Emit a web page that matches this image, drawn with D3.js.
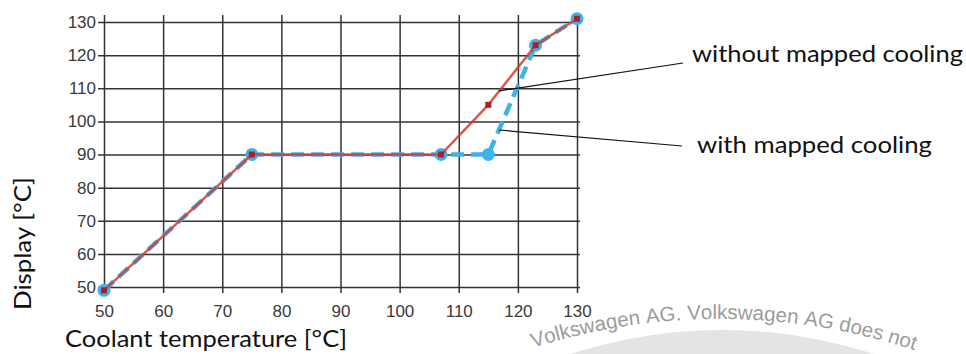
<!DOCTYPE html>
<html>
<head>
<meta charset="utf-8">
<script src="https://cdn.jsdelivr.net/npm/d3@7"></script>
<style>
	body { margin: 0; background: #fff; }
	.grid line { stroke: #333; stroke-width: 1.5px; }
	.grid text { fill: #3a3a3a; font-family: "Liberation Sans", Arial, sans-serif; font-size: 17px; }
	.title { fill: #111; font-family: Lato, "Open Sans", sans-serif; }
	.wm { fill: #9c9c9c; font-family: "Liberation Sans", Arial, sans-serif; font-size: 20.5px; }
</style>
</head>
<body>
<div id="content"></div>
<script>

	// coolant temperature (x) and display reading (y)
	var tempWithout = [50, 75, 107, 115, 123, 130];
	var displayWithout = [49, 90, 90, 105, 123, 131];
	var tempWith = [50, 75, 107, 115, 123, 130];
	var displayWith = [49, 90, 90, 90, 123, 131];

	var xTicks = [50, 60, 70, 80, 90, 100, 110, 120, 130];
	var yTicks = [50, 60, 70, 80, 90, 100, 110, 120, 130];

	var labelNames = ["without mapped cooling", "with mapped cooling"];
	// where the leader lines touch the curves, in data units
	var anchorTemp = [116.8, 116.8];
	var anchorDisplay = [109.2, 97.4];

	var width = 966,
	    height = 354;

	var svg = d3.select("#content").append("svg")
	    .attr("width", width)
	    .attr("height", height);

	var x = d3.scaleLinear().domain([50, 130]).range([104, 577]);
	var y = d3.scaleLinear().domain([50, 130]).range([287, 22]);

	// watermark in the corner
	var wm = svg.append("g");
	wm.append("circle")
	    .attr("cx", 722).attr("cy", 820).attr("r", 490)
	    .attr("fill", "#e4e4e4");

	// letters set one by one round an arc
	var cx = 720, cy = 939, r = 620;
	var wmText = "Volkswagen AG. Volkswagen AG does not";
	var probe = wm.append("text").attr("class", "wm");
	var widths = wmText.split("").map(function(c) {
	  probe.text(c === " " ? "\u00a0" : c);
	  return probe.node().getComputedTextLength();
	});
	probe.remove();

	var s = r * Math.asin((533 - cx) / r);
	wmText.split("").forEach(function(c, i) {
	  var phi = (s + widths[i] / 2) / r;
	  s += widths[i];
	  if (c === " ") return;
	  var px = cx + r * Math.sin(phi),
	      py = cy - r * Math.cos(phi);
	  wm.append("text")
	      .attr("class", "wm")
	      .attr("text-anchor", "middle")
	      .attr("transform", "translate(" + px + "," + py + ") rotate(" + (phi * 180 / Math.PI) + ")")
	      .text(c);
	});

	// grid + axes
	var xAxis = svg.append("g")
	    .attr("class", "grid")
	    .attr("transform", "translate(0,293)")
	    .call(d3.axisBottom(x).tickValues(xTicks).tickSize(-(293 - 15)).tickPadding(12));
	xAxis.select(".domain").remove();

	var yAxis = svg.append("g")
	    .attr("class", "grid")
	    .attr("transform", "translate(98,0)")
	    .call(d3.axisLeft(y).tickValues(yTicks).tickSize(-(580 - 98)).tickPadding(2));
	yAxis.select(".domain").remove();

	var line = d3.line()
	    .x(function(d) { return x(d[0]); })
	    .y(function(d) { return y(d[1]); });

	var withPts = d3.zip(tempWith, displayWith);
	var withoutPts = d3.zip(tempWithout, displayWithout);

	// with mapped cooling (blue, dashed)
	svg.append("path")
	    .attr("d", line(withPts))
	    .attr("fill", "none")
	    .attr("stroke", "#3fb2ea")
	    .attr("stroke-width", 4.5)
	    .attr("stroke-dasharray", "13,7");

	svg.append("g").selectAll("circle")
	    .data(withPts)
	    .enter().append("circle")
	      .attr("cx", function(d) { return x(d[0]); })
	      .attr("cy", function(d) { return y(d[1]); })
	      .attr("r", 6.5)
	      .attr("fill", "#3fb2ea");

	// without mapped cooling (red, solid)
	svg.append("path")
	    .attr("d", line(withoutPts))
	    .attr("fill", "none")
	    .attr("stroke", "#d23d2e")
	    .attr("stroke-opacity", 0.85)
	    .attr("stroke-width", 2.5);

	svg.append("g").selectAll("rect")
	    .data(withoutPts)
	    .enter().append("rect")
	      .attr("x", function(d) { return x(d[0]) - 3; })
	      .attr("y", function(d) { return y(d[1]) - 3; })
	      .attr("width", 6)
	      .attr("height", 6)
	      .attr("fill", "#a8202a");

	// leader lines and labels
	var labelX = [683, 682];
	var labelY = [63, 146];
	var textX = [692, 697];
	var textY = [62, 153];
	var textW = [271, 235];

	labelNames.forEach(function(name, i) {
	  svg.append("line")
	      .attr("x1", x(anchorTemp[i]))
	      .attr("y1", y(anchorDisplay[i]))
	      .attr("x2", labelX[i])
	      .attr("y2", labelY[i])
	      .attr("stroke", "#111")
	      .attr("stroke-width", 1.2);
	  svg.append("text")
	      .attr("class", "title")
	      .attr("x", textX[i])
	      .attr("y", textY[i])
	      .attr("font-size", 23)
	      .attr("textLength", textW[i])
	      .attr("lengthAdjust", "spacingAndGlyphs")
	      .text(name);
	});

	svg.append("text")
	    .attr("class", "title")
	    .attr("x", 65)
	    .attr("y", 347)
	    .attr("font-size", 24)
	    .attr("textLength", 282)
	    .attr("lengthAdjust", "spacingAndGlyphs")
	    .text("Coolant temperature [°C]");

	svg.append("text")
	    .attr("class", "title")
	    .attr("transform", "translate(31,310) rotate(-90)")
	    .attr("font-size", 24)
	    .attr("textLength", 133)
	    .attr("lengthAdjust", "spacingAndGlyphs")
	    .text("Display [°C]");

</script>
</body>
</html>
